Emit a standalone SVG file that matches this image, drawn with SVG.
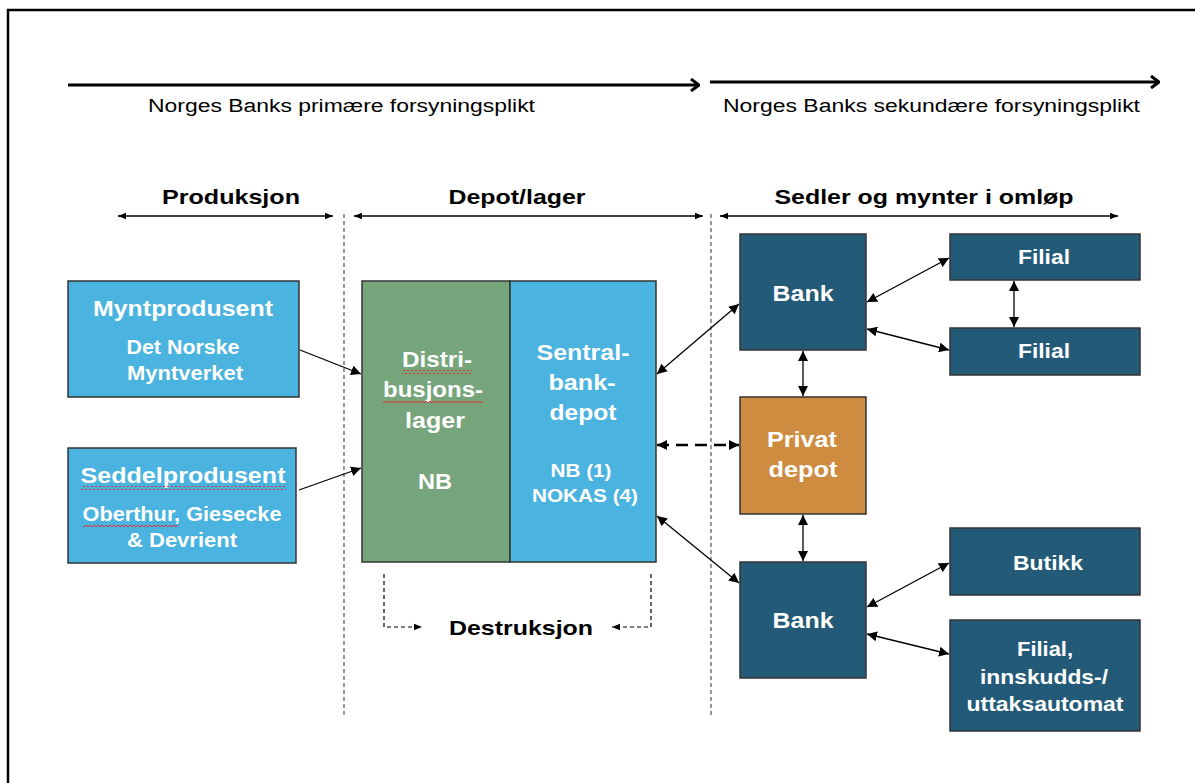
<svg xmlns="http://www.w3.org/2000/svg" width="1195" height="783" viewBox="0 0 1195 783">
<defs>
<marker id="ah" viewBox="0 0 10 10" refX="10" refY="5" markerWidth="10" markerHeight="10" markerUnits="userSpaceOnUse" orient="auto-start-reverse"><path d="M0,0 L10,5 L0,10 z" fill="#000"/></marker>
<marker id="ahs" viewBox="0 0 10 10" refX="10" refY="5" markerWidth="8" markerHeight="8" markerUnits="userSpaceOnUse" orient="auto-start-reverse"><path d="M0,1 L10,5 L0,9 z" fill="#000"/></marker>
<marker id="chev" viewBox="0 0 10 14" refX="9" refY="7" markerWidth="10" markerHeight="14" markerUnits="userSpaceOnUse" orient="auto"><path d="M1,1 L9,7 L1,13" fill="none" stroke="#000" stroke-width="3"/></marker>
<pattern id="wave" width="4" height="4" patternUnits="userSpaceOnUse"><path d="M0,3 L2,1 L4,3" fill="none" stroke="#e03030" stroke-width="1"/></pattern>
</defs>
<style>
.lbl{font-family:"Liberation Sans",Arial,sans-serif;fill:#000}
.hd{font-family:"Liberation Sans",Arial,sans-serif;font-weight:bold;font-size:21px;fill:#000;text-anchor:middle}
.w{font-family:"Liberation Sans",Arial,sans-serif;font-weight:bold;fill:#fff;text-anchor:middle}
.box{stroke:#333;stroke-width:1.5}
.lb{fill:#4AB3E0}
.gr{fill:#76A47B}
.db{fill:#235A78}
.or{fill:#CE8C40}
.c{stroke:#000;stroke-width:1.3;fill:none}
.dv{stroke:#555;stroke-width:1.2;stroke-dasharray:4 3;fill:none}
</style>
<rect width="1195" height="783" fill="#fff"/>
<path d="M8,783 L8,10 L1195,10" fill="none" stroke="#000" stroke-width="2.5"/>

<g id="top-arrows">
<line x1="68" y1="85" x2="699" y2="85" stroke="#000" stroke-width="3" marker-end="url(#chev)"/>
<line x1="710" y1="82" x2="1159" y2="82" stroke="#000" stroke-width="3" marker-end="url(#chev)"/>
<text class="lbl" x="148" y="112" font-size="18" textLength="387" lengthAdjust="spacingAndGlyphs">Norges Banks primære forsyningsplikt</text>
<text class="lbl" x="723" y="112" font-size="18" textLength="417" lengthAdjust="spacingAndGlyphs">Norges Banks sekundære forsyningsplikt</text>
</g>

<g id="headings">
<text class="hd" x="231" y="204" textLength="138" lengthAdjust="spacingAndGlyphs">Produksjon</text>
<text class="hd" x="517" y="204" textLength="137" lengthAdjust="spacingAndGlyphs">Depot/lager</text>
<text class="hd" x="924" y="204" textLength="299" lengthAdjust="spacingAndGlyphs">Sedler og mynter i omløp</text>
<line class="c" x1="118" y1="216" x2="333" y2="216" marker-start="url(#ahs)" marker-end="url(#ahs)"/>
<line class="c" x1="354" y1="216" x2="703" y2="216" marker-start="url(#ahs)" marker-end="url(#ahs)"/>
<line class="c" x1="720" y1="216" x2="1118" y2="216" marker-start="url(#ahs)" marker-end="url(#ahs)"/>
<line class="dv" x1="344" y1="214" x2="344" y2="716"/>
<line class="dv" x1="711" y1="214" x2="711" y2="716"/>
</g>

<g id="myntprodusent">
<rect class="box lb" x="68" y="281" width="231" height="116"/>
<text class="w" x="183" y="316" font-size="22" textLength="180" lengthAdjust="spacingAndGlyphs">Myntprodusent</text>
<text class="w" x="183" y="354" font-size="19.5" textLength="113" lengthAdjust="spacingAndGlyphs">Det Norske</text>
<text class="w" x="185" y="380" font-size="19.5" textLength="116" lengthAdjust="spacingAndGlyphs">Myntverket</text>
</g>

<g id="seddelprodusent">
<rect class="box lb" x="68" y="448" width="228" height="115"/>
<text class="w" x="183" y="483" font-size="22" textLength="205" lengthAdjust="spacingAndGlyphs">Seddelprodusent</text>
<rect x="81" y="486" width="205" height="4" fill="url(#wave)"/>
<text class="w" x="182" y="521" font-size="19.5" textLength="199" lengthAdjust="spacingAndGlyphs">Oberthur, Giesecke</text>
<rect x="83" y="523" width="95" height="4" fill="url(#wave)"/>
<text class="w" x="182" y="547" font-size="19.5" textLength="110" lengthAdjust="spacingAndGlyphs">&amp; Devrient</text>
</g>

<g id="distribusjonslager">
<rect class="box gr" x="362" y="281" width="148" height="281"/>
<text class="w" x="437" y="367" font-size="22.5" textLength="70" lengthAdjust="spacingAndGlyphs">Distri-</text>
<rect x="402" y="370" width="70" height="4" fill="url(#wave)"/>
<text class="w" x="433" y="397" font-size="22.5" textLength="100" lengthAdjust="spacingAndGlyphs">busjons-</text>
<rect x="383" y="400" width="100" height="4" fill="url(#wave)"/>
<text class="w" x="435" y="428" font-size="22.5" textLength="60" lengthAdjust="spacingAndGlyphs">lager</text>
<text class="w" x="435" y="489" font-size="22.5" textLength="34" lengthAdjust="spacingAndGlyphs">NB</text>
</g>

<g id="sentralbankdepot">
<rect class="box lb" x="510" y="281" width="146" height="281"/>
<text class="w" x="583" y="360" font-size="22.5" textLength="93" lengthAdjust="spacingAndGlyphs">Sentral-</text>
<text class="w" x="582" y="390" font-size="22.5" textLength="67" lengthAdjust="spacingAndGlyphs">bank-</text>
<text class="w" x="583" y="420" font-size="22.5" textLength="67" lengthAdjust="spacingAndGlyphs">depot</text>
<text class="w" x="581" y="477" font-size="19" textLength="61" lengthAdjust="spacingAndGlyphs">NB (1)</text>
<text class="w" x="585" y="502" font-size="19" textLength="106" lengthAdjust="spacingAndGlyphs">NOKAS (4)</text>
</g>

<g id="bank1">
<rect class="box db" x="740" y="234" width="126" height="116"/>
<text class="w" x="803" y="301" font-size="22" textLength="61" lengthAdjust="spacingAndGlyphs">Bank</text>
</g>
<g id="filial1">
<rect class="box db" x="950" y="234" width="190" height="46"/>
<text class="w" x="1044" y="264" font-size="21" textLength="52" lengthAdjust="spacingAndGlyphs">Filial</text>
</g>
<g id="filial2">
<rect class="box db" x="950" y="328" width="190" height="47"/>
<text class="w" x="1044" y="358" font-size="21" textLength="52" lengthAdjust="spacingAndGlyphs">Filial</text>
</g>
<g id="privatdepot">
<rect class="box or" x="740" y="397" width="126" height="117"/>
<text class="w" x="802" y="447" font-size="22" textLength="70" lengthAdjust="spacingAndGlyphs">Privat</text>
<text class="w" x="803" y="477" font-size="22" textLength="69" lengthAdjust="spacingAndGlyphs">depot</text>
</g>
<g id="bank2">
<rect class="box db" x="740" y="562" width="126" height="116"/>
<text class="w" x="803" y="628" font-size="22" textLength="61" lengthAdjust="spacingAndGlyphs">Bank</text>
</g>
<g id="butikk">
<rect class="box db" x="950" y="528" width="190" height="67"/>
<text class="w" x="1048" y="570" font-size="21" textLength="70" lengthAdjust="spacingAndGlyphs">Butikk</text>
</g>
<g id="filial-automat">
<rect class="box db" x="950" y="620" width="190" height="111"/>
<text class="w" x="1045" y="656" font-size="21" textLength="56" lengthAdjust="spacingAndGlyphs">Filial,</text>
<text class="w" x="1044" y="684" font-size="21" textLength="128" lengthAdjust="spacingAndGlyphs">innskudds-/</text>
<text class="w" x="1045" y="711" font-size="21" textLength="157" lengthAdjust="spacingAndGlyphs">uttaksautomat</text>
</g>

<g id="destruksjon">
<text class="hd" x="521" y="635" textLength="144" lengthAdjust="spacingAndGlyphs">Destruksjon</text>
</g>

<g id="connectors">
<line class="c" x1="300" y1="350" x2="361" y2="374" marker-end="url(#ah)"/>
<line class="c" x1="299" y1="490" x2="361" y2="468" marker-end="url(#ah)"/>
<line class="c" x1="657" y1="374" x2="739" y2="304" marker-start="url(#ah)" marker-end="url(#ah)"/>
<line x1="657" y1="445" x2="739" y2="445" stroke="#000" stroke-width="2.5" stroke-dasharray="12 7" marker-start="url(#ah)" marker-end="url(#ah)"/>
<line class="c" x1="657" y1="516" x2="739" y2="583" marker-start="url(#ah)" marker-end="url(#ah)"/>
<line class="c" x1="867" y1="302" x2="949" y2="258" marker-start="url(#ah)" marker-end="url(#ah)"/>
<line class="c" x1="867" y1="329" x2="949" y2="350" marker-start="url(#ah)" marker-end="url(#ah)"/>
<line class="c" x1="1014" y1="281" x2="1014" y2="327" marker-start="url(#ah)" marker-end="url(#ah)"/>
<line class="c" x1="803" y1="351" x2="803" y2="396" marker-start="url(#ah)" marker-end="url(#ah)"/>
<line class="c" x1="803" y1="515" x2="803" y2="561" marker-start="url(#ah)" marker-end="url(#ah)"/>
<line class="c" x1="867" y1="607" x2="949" y2="563" marker-start="url(#ah)" marker-end="url(#ah)"/>
<line class="c" x1="867" y1="634" x2="949" y2="654" marker-start="url(#ah)" marker-end="url(#ah)"/>
<path d="M384,574 L384,627 L422,627" fill="none" stroke="#000" stroke-width="1.2" stroke-dasharray="4 3" marker-end="url(#ahs)"/>
<path d="M651,574 L651,627 L612,627" fill="none" stroke="#000" stroke-width="1.2" stroke-dasharray="4 3" marker-end="url(#ahs)"/>
</g>
</svg>
